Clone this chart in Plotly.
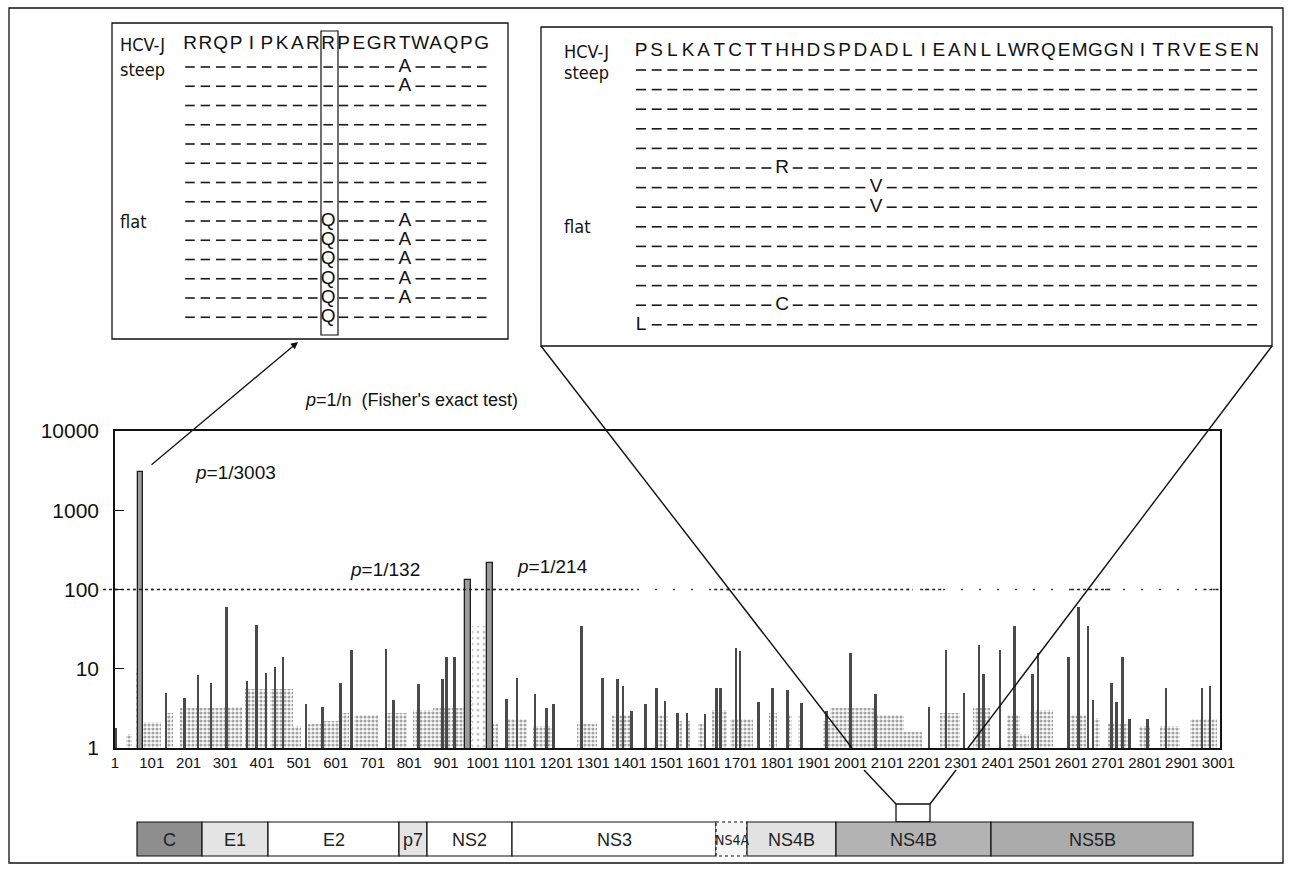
import plotly.graph_objects as go

W, H = 1292, 872
SANS = "Liberation Sans, Arial, Helvetica, sans-serif"
NARROW = "Liberation Sans Narrow, Arial Narrow, DejaVu Sans Condensed, Liberation Sans, sans-serif"

# ---------------- data ----------------
# the three sites that pass p < 1/100 (value plotted = 1/p)
sig_pos = [70, 960, 1020]
sig_val = [3003, 132, 214]

# other per-position peaks (amino-acid position, 1/p)
peak_pos = [5, 140, 191, 227, 262, 305, 360, 386, 412, 436, 458, 521, 566, 615, 645, 738, 759,
            827, 892, 903, 925, 1066, 1094, 1143, 1175, 1194, 1270, 1327, 1368, 1382, 1406,
            1444, 1474, 1496, 1531, 1556, 1605, 1637, 1648, 1689, 1700, 1751, 1789, 1830,
            1868, 1936,
            2001, 2069, 2214, 2260, 2309, 2350, 2363, 2407, 2447, 2496, 2510, 2594, 2621,
            2646, 2660, 2711, 2724, 2741, 2760, 2809, 2858, 2956, 2978]
peak_val = [1.8, 5, 4.3, 8.4, 6.6, 60, 7, 36, 8.9, 10.5, 14, 3.6, 3.3, 6.6, 17, 17.5, 4,
            6.5, 7.5, 14, 14, 4.2, 7.7, 4.8, 3.2, 3.6, 35, 7.7, 7.5, 6.1, 2.9,
            3.6, 5.7, 3.9, 2.8, 2.8, 2.7, 5.7, 5.7, 18.4, 16.8, 3.8, 5.7, 5.4,
            3.7, 2.9,
            16, 4.8, 3.3, 17, 5, 20, 8.6, 17, 35, 8.6, 16, 14, 61,
            35, 4, 6.6, 3.8, 14, 2.3, 2.3, 5.7, 5.7, 6.1]

# stippled background of low-scoring positions (start, end, level)
bg_start = [30, 72, 137, 178, 290, 355, 422, 486, 526, 569, 606, 650, 740, 810, 865, 968,
            1022, 1060, 1136, 1256, 1351, 1468, 1528, 1555, 1585, 1623, 1672, 1780, 1826,
            1857, 1926, 1946, 2072, 2146, 2243, 2333, 2426, 2461, 2488, 2588, 2656, 2700,
            2786, 2841, 2923]
bg_end = [46, 126, 160, 290, 345, 416, 485, 506, 562, 606, 636, 716, 796, 865, 953, 1012,
          1042, 1122, 1197, 1311, 1406, 1504, 1543, 1565, 1605, 1665, 1736, 1800, 1842,
          1872, 1945, 2072, 2146, 2196, 2297, 2379, 2461, 2486, 2551, 2642, 2678, 2760,
          2814, 2897, 2998]
bg_val = [1.5, 2.1, 2.8, 3.2, 3.3, 5.5, 5.5, 1.9, 2.0, 2.2, 2.8, 2.6, 2.8, 3.0, 3.2, 4.5,
          2.0, 2.3, 1.9, 2.0, 2.6, 2.6, 2.2, 2.2, 2.0, 3.0, 2.3, 2.8, 2.6,
          2.6, 2.2, 3.2, 2.6, 1.6, 2.8, 3.2, 2.6, 1.5, 3.0, 2.6, 2.4, 2.0,
          1.9, 1.9, 2.3]

# sparse scatter of points reaching higher
faint_start = [58, 972]
faint_end = [68, 1012]
faint_val = [10, 35]

# significance threshold (1/p = 100) and the stretches where it is printed solid
thr_value = 100
thr_start = [1, 1630, 2190, 2600, 2960]
thr_end = [1410, 2170, 2250, 2710, 3001]

x_ticks = list(range(1, 3002, 100))
y_ticks = [1, 10, 100, 1000, 10000]

# sequence alignments: reference and isolates ('-' = identical residue)
core_ref = "RRQPIPKARRPEGRTWAQPG"
core_rows = ["--------------A-----", "--------------A-----",
             "--------------------", "--------------------", "--------------------",
             "--------------------", "--------------------", "--------------------",
             "---------Q----A-----", "---------Q----A-----", "---------Q----A-----",
             "---------Q----A-----", "---------Q----A-----", "---------Q----------"]
ns4b_ref = "PSLKATCTTHHDSPDADLIEANLLWRQEMGGNITRVESEN"
ns4b_rows = ["-" * 40] * 5 + [
    "---------R------------------------------",
    "---------------V------------------------",
    "---------------V------------------------"] + ["-" * 40] * 4 + [
    "---------C------------------------------",
    "L---------------------------------------"]

genes = ["C", "E1", "E2", "p7", "NS2", "NS3", "NS4A", "NS4B", "NS4B", "NS5B"]
gene_fill = ["#8e8e8e", "#e4e4e4", "white", "#e4e4e4", "white", "white", "#f6f6f6",
             "#e2e2e2", "#b3b3b3", "#ababab"]

# ---------------- layout geometry (pixels) ----------------
PX_L, PX_R, PX_T, PX_B = 115, 1220, 431, 748
gene_edges = [137, 202, 268, 399, 427, 512, 716, 747, 836, 991, 1193]
GENE_T, GENE_B = 822, 856

fig = go.Figure()

# ---------------- main histogram ----------------
fig.add_bar(x=[(s + e) / 2 for s, e in zip(bg_start, bg_end)], y=bg_val,
            width=[e - s for s, e in zip(bg_start, bg_end)],
            marker=dict(color="white", line=dict(width=0),
                        pattern=dict(shape=".", fgcolor="#4a4a4a", bgcolor="white",
                                     size=4, solidity=0.5)),
            xaxis="x", yaxis="y", hoverinfo="skip")
fig.add_bar(x=[(s + e) / 2 for s, e in zip(faint_start, faint_end)], y=faint_val,
            width=[e - s for s, e in zip(faint_start, faint_end)],
            marker=dict(color="white", line=dict(width=0),
                        pattern=dict(shape=".", fgcolor="#8a8a8a", bgcolor="white",
                                     size=6, solidity=0.2)),
            xaxis="x", yaxis="y", hoverinfo="skip")
fig.add_bar(x=peak_pos, y=peak_val, width=5,
            marker=dict(color="#4a4a4a", line=dict(width=0)),
            xaxis="x", yaxis="y", hoverinfo="skip")
fig.add_bar(x=sig_pos, y=sig_val, width=15,
            marker=dict(color="#9c9c9c", line=dict(color="#1e1e1e", width=1.3)),
            xaxis="x", yaxis="y", hoverinfo="skip")

# threshold line: faint dots everywhere, solid dotted stretches on top
fig.add_scatter(x=[1, 3001], y=[thr_value, thr_value], mode="lines",
                line=dict(color="#444", width=1.4, dash="2px,16px"),
                xaxis="x", yaxis="y", hoverinfo="skip")
tx, ty = [], []
for s, e in zip(thr_start, thr_end):
    tx += [s, e, None]
    ty += [thr_value, thr_value, None]
fig.add_scatter(x=tx, y=ty, mode="lines", line=dict(color="#222", width=1.6, dash="dot"),
                xaxis="x", yaxis="y", hoverinfo="skip")

# ---------------- alignment panels (pixel overlay axes) ----------------
shapes = []
annotations = []


def line(x0, y0, x1, y1, w=1.3, color="#111", dash=None):
    d = dict(type="line", xref="x2", yref="y2", x0=x0, y0=y0, x1=x1, y1=y1,
             line=dict(color=color, width=w))
    if dash:
        d["line"]["dash"] = dash
    shapes.append(d)


def rect(x0, y0, x1, y1, w=1.3, fill=None, color="#111", dash=None):
    d = dict(type="rect", xref="x2", yref="y2", x0=x0, y0=y0, x1=x1, y1=y1,
             line=dict(color=color, width=w), layer="above")
    if fill:
        d["fillcolor"] = fill
    if dash:
        d["line"]["dash"] = dash
    shapes.append(d)


def text(x, y, s, size=17, family=SANS, xanchor="left", color="#111"):
    annotations.append(dict(xref="x2", yref="y2", x=x, y=y, text=s, showarrow=False,
                            xanchor=xanchor, yanchor="middle",
                            font=dict(family=family, size=size, color=color)))


def panel(ref, rows, col0, step, row0, rowstep, head_y, label_x, dash_len):
    dx, dy, lx, ly, lt = [], [], [], [], []
    for j, ch in enumerate(ref):
        lx.append(col0 + j * step)
        ly.append(head_y)
        lt.append(ch)
    for i, row in enumerate(rows):
        y = row0 + i * rowstep
        for j, ch in enumerate(row):
            cx = col0 + j * step
            if ch == "-":
                dx += [cx - dash_len / 2, cx + dash_len / 2, None]
                dy += [y, y, None]
            else:
                lx.append(cx)
                ly.append(y)
                lt.append(ch)
    fig.add_scatter(x=dx, y=dy, mode="lines", line=dict(color="#1a1a1a", width=1.6),
                    xaxis="x2", yaxis="y2", hoverinfo="skip")
    fig.add_scatter(x=lx, y=ly, mode="text", text=lt,
                    textfont=dict(family=SANS, size=19, color="#111"),
                    xaxis="x2", yaxis="y2", hoverinfo="skip", cliponaxis=False)
    text(label_x, head_y, "HCV-J", 18, NARROW)
    text(label_x, row0 + 2, "steep", 18, NARROW)
    text(label_x, row0 + 8 * rowstep, "flat", 18, NARROW)


# core region panel
panel(core_ref, core_rows, 190, 15.35, 67, 19.25, 44, 118, 9.5)
rect(112, 23, 508, 339)
rect(321, 31, 338, 335, w=1.2)
# NS4B region panel
panel(ns4b_ref, ns4b_rows, 641, 15.67, 70, 19.6, 51, 562, 10)
rect(541, 27, 1272, 346)

# outer frame
rect(9, 8, 1283, 863, w=1.3)

# threshold stub left of the axis
line(103, 589.5, PX_L, 589.5, w=1.5, color="#222", dash="dot")

# zoom lines from the NS4B panel to the axis and down to the genome map
line(541, 346, 852, PX_B, w=1.4)
line(1272, 346, 968, PX_B, w=1.4)
line(864, 770, 896, 804, w=1.4)
line(956, 770, 930, 804, w=1.4)
rect(896, 804, 930, GENE_T, w=1.3)

# genome map
for k, g in enumerate(genes):
    x0, x1 = gene_edges[k], gene_edges[k + 1]
    dash = "dot" if g == "NS4A" else None
    rect(x0, GENE_T, x1, GENE_B, w=1.2, fill=gene_fill[k], dash=dash)
    if g == "NS4A":
        text((x0 + x1) / 2, (GENE_T + GENE_B) / 2 + 1, g, 14, NARROW, xanchor="center",
             color="#222")
    else:
        text((x0 + x1) / 2, (GENE_T + GENE_B) / 2 + 1, g, 18, SANS, xanchor="center",
             color="#222")

# p-value labels
sig_xy = [(193, 472), (348, 569), (515, 566)]
for (x, y), v in zip(sig_xy, sig_val):
    text(x, y, f"<i>p</i>=1/{v}", 19, SANS)
text(303, 400, "<i>p</i>=1/n  (Fisher's exact test)", 18, SANS)

# arrow from the core peak to the core panel
annotations.append(dict(xref="x2", yref="y2", axref="x2", ayref="y2", x=298, y=342,
                        ax=150, ay=466, showarrow=True, arrowhead=2, arrowsize=1.1,
                        arrowwidth=1.3, arrowcolor="#111", text=""))

fig.update_layout(
    width=W, height=H, autosize=False,
    margin=dict(l=0, r=0, t=0, b=0, pad=0, autoexpand=False),
    paper_bgcolor="white", plot_bgcolor="rgba(0,0,0,0)",
    showlegend=False, barmode="overlay", bargap=0,
    shapes=shapes, annotations=annotations,
    xaxis=dict(domain=[PX_L / W, PX_R / W], range=[1, 3005], automargin=False,
               anchor="y", tickmode="array", tickvals=x_ticks,
               ticktext=[str(t) for t in x_ticks],
               tickangle=0, ticks="", showgrid=False, zeroline=False,
               showline=True, linecolor="#111", linewidth=1.5, mirror=True,
               tickfont=dict(family=SANS, size=15, color="#111")),
    yaxis=dict(domain=[1 - PX_B / H, 1 - PX_T / H], type="log", automargin=False,
               range=[0, 4], anchor="x",
               tickmode="array", tickvals=y_ticks, ticktext=[str(t) for t in y_ticks],
               ticks="inside", ticklen=9, tickwidth=1.3, tickcolor="#111",
               showgrid=False, zeroline=False, ticklabelstandoff=10,
               showline=True, linecolor="#111", linewidth=1.5, mirror=True,
               tickfont=dict(family=SANS, size=21, color="#111")),
    xaxis2=dict(domain=[0, 1], range=[0, W], anchor="y2", visible=False,
                fixedrange=True, automargin=False),
    yaxis2=dict(domain=[0, 1], range=[H, 0], anchor="x2", visible=False,
                fixedrange=True, automargin=False),
)

fig.write_html("out.html")
